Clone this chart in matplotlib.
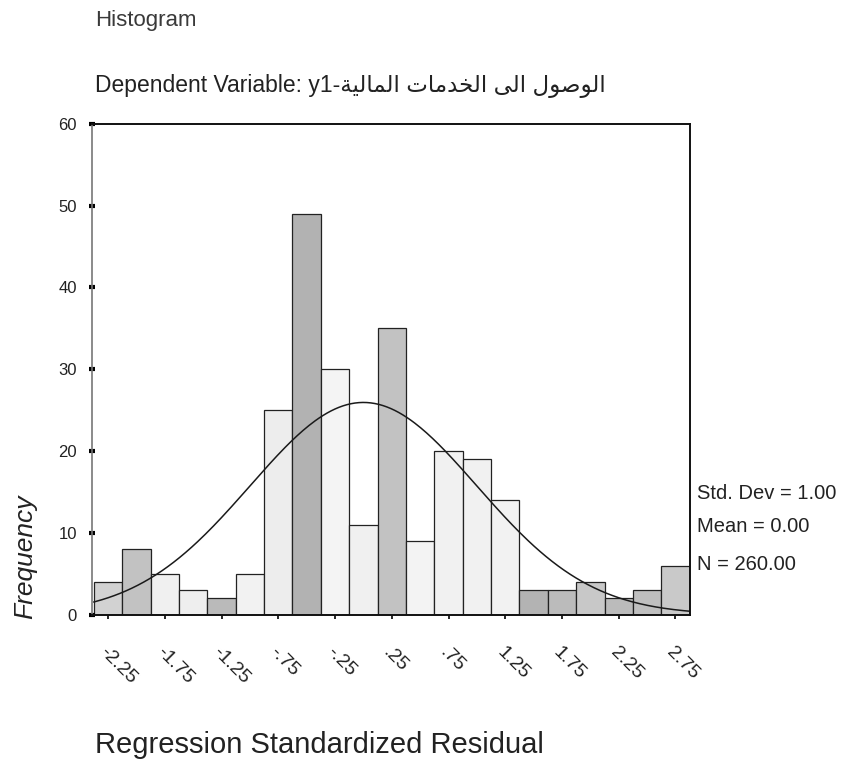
import numpy as np
import matplotlib
matplotlib.use("Agg")
import matplotlib.pyplot as plt

# DATA

binCenters = [-2.25 + 0.25 * i for i in range(21)]
frequencies = [4, 8, 5, 3, 2, 5, 25, 49, 30, 11, 35, 9, 20, 19, 14, 3, 3, 4, 2, 3, 6]
tickValues = [-2.25, -1.75, -1.25, -0.75, -0.25, 0.25, 0.75, 1.25, 1.75, 2.25, 2.75]
tickLabels = ["-2.25", "-1.75", "-1.25", "-.75", "-.25", ".25", ".75", "1.25", "1.75", "2.25", "2.75"]
yTicks = [0, 10, 20, 30, 40, 50, 60]

stdDev = 1.00
mean = 0.00
n = 260.00
binWidth = 0.25

arabicTitle = "الوصول الى الخدمات المالية"

# ARABIC SHAPING (matplotlib has no bidi / joining support)

forms = {  # isolated, final, initial, medial
	"ا": ("\uFE8D", "\uFE8E", None, None),
	"ل": ("\uFEDD", "\uFEDE", "\uFEDF", "\uFEE0"),
	"و": ("\uFEED", "\uFEEE", None, None),
	"ص": ("\uFEB9", "\uFEBA", "\uFEBB", "\uFEBC"),
	"ى": ("\uFEEF", "\uFEF0", None, None),
	"خ": ("\uFEA5", "\uFEA6", "\uFEA7", "\uFEA8"),
	"د": ("\uFEA9", "\uFEAA", None, None),
	"م": ("\uFEE1", "\uFEE2", "\uFEE3", "\uFEE4"),
	"ت": ("\uFE95", "\uFE96", "\uFE97", "\uFE98"),
	"ي": ("\uFEF1", "\uFEF2", "\uFEF3", "\uFEF4"),
	"ة": ("\uFE93", "\uFE94", None, None),
}

def shapeWord(word: str) -> str:
	out = []
	for i, ch in enumerate(word):
		iso, fin, ini, med = forms[ch]
		prevJoins = i > 0 and forms[word[i - 1]][2] is not None
		nextJoins = i < len(word) - 1 and ini is not None
		if prevJoins and nextJoins:
			out.append(med)
		elif prevJoins:
			out.append(fin)
		elif nextJoins:
			out.append(ini)
		else:
			out.append(iso)
	return "".join(out)

def visualArabic(text: str) -> str:
	return " ".join(shapeWord(w) for w in text.split(" "))[::-1]

# PLOT

fonts = ["Liberation Sans", "DejaVu Sans"]
plt.rcParams["font.family"] = fonts

fig = plt.figure(figsize=(8.41, 7.78), dpi=100)
ax = fig.add_axes([0.109, 0.21, 0.711, 0.631])

barColours = ["#d2d2d2", "#c2c2c2", "#f0f0f0", "#eeeeee", "#bababa", "#f2f2f2", "#ededed",
	"#b2b2b2", "#f4f4f4", "#f0f0f0", "#c2c2c2", "#f3f3f3", "#f1f1f1", "#f1f1f1",
	"#f2f2f2", "#b3b3b3", "#bbbbbb", "#c8c8c8", "#bbbbbb", "#bfbfbf", "#c9c9c9"]

ax.bar(binCenters, frequencies, width=binWidth, color=barColours, edgecolor="#222222", linewidth=0.9)

# Normal curve from the reported statistics
x = np.linspace(binCenters[0] - binWidth / 2, binCenters[-1] + binWidth / 2, 300)
curve = n * binWidth / (stdDev * np.sqrt(2 * np.pi)) * np.exp(-0.5 * ((x - mean) / stdDev) ** 2)
ax.plot(x, curve, color="#1a1a1a", linewidth=1.1)

ax.set_xlim(binCenters[0] - binWidth / 2 - 0.02, binCenters[-1] + binWidth / 2)
ax.set_ylim(0, 60)

ax.set_yticks(yTicks)
ax.set_yticklabels([str(v) for v in yTicks], fontsize=12, color="#222222")
ax.tick_params(axis="y", direction="inout", length=5, width=3, pad=8)

ax.set_xticks(tickValues)
ax.set_xticklabels(tickLabels, fontsize=14, color="#222222", rotation=-45, ha="left", va="top", rotation_mode="anchor")
ax.tick_params(axis="x", direction="out", length=3, width=1.2, pad=18)

for side in ["top", "right", "bottom"]:
	ax.spines[side].set_linewidth(1.4)
	ax.spines[side].set_color("#111111")
ax.spines["left"].set_linewidth(1.2)
ax.spines["left"].set_color("#777777")

# TEXTS

fig.text(0.113, 0.974, "Histogram", fontsize=16, color="#3a3a3a", va="center", ha="left")
fig.text(0.113, 0.890, "Dependent Variable: y1-" + visualArabic(arabicTitle), fontsize=16.5, color="#222222", va="center", ha="left")

fig.text(0.829, 0.366, "Std. Dev = %.2f" % stdDev, fontsize=14.5, color="#222222", va="center")
fig.text(0.829, 0.323, "Mean = %.2f" % mean, fontsize=14.5, color="#222222", va="center")
fig.text(0.829, 0.274, "N = %.2f" % n, fontsize=14.5, color="#222222", va="center")

fig.text(0.030, 0.284, "Frequency", fontsize=19, style="italic", rotation=90, color="#222222", va="center", ha="center")
fig.text(0.113, 0.042, "Regression Standardized Residual", fontsize=21, color="#222222", va="center", ha="left")

fig.savefig("out.png", dpi=100)
